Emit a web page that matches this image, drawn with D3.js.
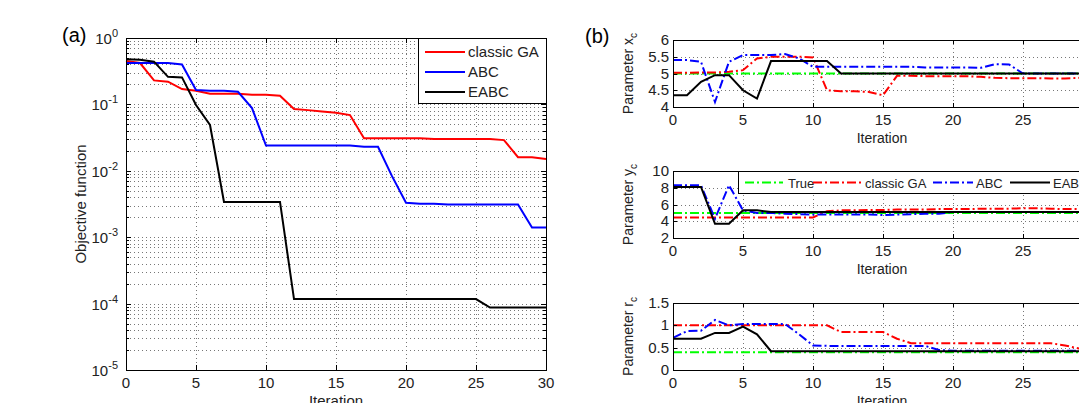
<!DOCTYPE html>
<html>
<head>
<meta charset="utf-8">
<script src="https://cdn.jsdelivr.net/npm/d3@7"></script>
<style>
body { margin: 0; background: #fff; }
text { font-family: "Liberation Sans", Arial, sans-serif; }
</style>
</head>
<body>
<script>
// iterations 0..30
var iterations = d3.range(0, 31);
var xTicks = [0, 5, 10, 15, 20, 25, 30];

// (a) objective function per iteration
var seriesNames = ['classic GA', 'ABC', 'EABC'];
var gaObj = [0.45, 0.42, 0.23, 0.22, 0.17, 0.16, 0.145, 0.145, 0.145, 0.14, 0.14, 0.135, 0.085, 0.082, 0.078, 0.075,
    0.069, 0.031, 0.031, 0.031, 0.031, 0.031, 0.03, 0.03, 0.03, 0.03, 0.03, 0.029, 0.016, 0.016, 0.015];
var abcObj = [0.42, 0.42, 0.42, 0.42, 0.4, 0.165, 0.16, 0.16, 0.155, 0.088, 0.024, 0.024, 0.024, 0.024, 0.024, 0.024,
    0.024, 0.023, 0.023, 0.0083, 0.0033, 0.0032, 0.0032, 0.0031, 0.0031, 0.0031, 0.0031, 0.0031, 0.0031, 0.0014, 0.0014];
var eabcObj = [0.48, 0.47, 0.44, 0.26, 0.255, 0.098, 0.049, 0.0034, 0.0034, 0.0034, 0.0034, 0.0034,
    0.000117, 0.000117, 0.000117, 0.000117, 0.000117, 0.000117, 0.000117, 0.000117, 0.000117, 0.000117, 0.000117,
    0.000117, 0.000117, 0.000117, 0.000087, 0.000087, 0.000087, 0.000087, 0.000087];
var yTicksA = [1e-5, 1e-4, 1e-3, 1e-2, 1e-1, 1];
var yTickExpA = ['-5', '-4', '-3', '-2', '-1', '0'];

// (b) estimated parameters per iteration
var legendB = ['True', 'classic GA', 'ABC', 'EABC'];
var trueXc = [5, 5, 5, 5, 5, 5, 5, 5, 5, 5, 5, 5, 5, 5, 5, 5, 5, 5, 5, 5, 5, 5, 5, 5, 5, 5, 5, 5, 5, 5, 5];
var gaXc = [5.02, 5.02, 5.03, 5.03, 5.05, 5.1, 5.45, 5.5, 5.5, 5.5, 5.48, 4.5, 4.47, 4.47, 4.45, 4.35,
    4.93, 4.93, 4.92, 4.92, 4.92, 4.92, 4.9, 4.87, 4.86, 4.86, 4.86, 4.85, 4.85, 4.87, 4.87];
var abcXc = [5.4, 5.4, 5.35, 4.15, 5.35, 5.55, 5.55, 5.55, 5.58, 5.45, 5.2, 5.2, 5.2, 5.2, 5.2, 5.2,
    5.2, 5.2, 5.18, 5.18, 5.18, 5.18, 5.17, 5.28, 5.27, 5.0, 5.0, 5.0, 5.0, 5.0, 5.0];
var eabcXc = [4.35, 4.35, 4.75, 4.95, 4.95, 4.5, 4.25, 5.37, 5.37, 5.37, 5.37, 5.37, 5.0, 5.0, 5.0, 5.0,
    5.0, 5.0, 5.0, 5.0, 5.0, 5.0, 5.0, 5.0, 5.0, 5.0, 5.0, 5.0, 5.0, 5.0, 5.0];

var trueYc = [5, 5, 5, 5, 5, 5, 5, 5, 5, 5, 5, 5, 5, 5, 5, 5, 5, 5, 5, 5, 5, 5, 5, 5, 5, 5, 5, 5, 5, 5, 5];
var gaYc = [4.45, 4.45, 4.45, 4.45, 4.45, 4.45, 4.45, 4.45, 4.45, 4.45, 4.45, 5.2, 5.3, 5.3, 5.35, 5.35,
    5.4, 5.4, 5.4, 5.45, 5.45, 5.45, 5.5, 5.5, 5.5, 5.55, 5.55, 5.5, 5.45, 5.45, 5.5];
var abcYc = [8.3, 8.3, 8.3, 4.3, 8.3, 5.3, 5.0, 5.0, 4.9, 4.85, 4.8, 4.8, 4.8, 4.8, 4.8, 4.75,
    4.8, 4.85, 4.9, 4.9, 5.1, 5.1, 5.1, 5.1, 5.1, 5.1, 5.1, 5.1, 5.1, 5.1, 5.1];
var eabcYc = [8.1, 8.1, 8.1, 3.7, 3.7, 5.3, 5.3, 5.1, 5.1, 5.1, 5.1, 5.1, 5.1, 5.1, 5.1, 5.1,
    5.1, 5.1, 5.1, 5.1, 5.1, 5.1, 5.1, 5.1, 5.1, 5.1, 5.1, 5.1, 5.1, 5.1, 5.1];

var trueRc = [0.4, 0.4, 0.4, 0.4, 0.4, 0.4, 0.4, 0.4, 0.4, 0.4, 0.4, 0.4, 0.4, 0.4, 0.4, 0.4,
    0.4, 0.4, 0.4, 0.4, 0.4, 0.4, 0.4, 0.4, 0.4, 0.4, 0.4, 0.4, 0.4, 0.4, 0.4];
var gaRc = [1.0, 1.0, 1.0, 1.0, 1.0, 1.0, 1.0, 1.0, 1.0, 1.0, 1.0, 1.0, 0.85, 0.85, 0.85, 0.85,
    0.7, 0.6, 0.6, 0.6, 0.6, 0.6, 0.6, 0.6, 0.6, 0.6, 0.6, 0.6, 0.55, 0.48, 0.46];
var abcRc = [0.72, 0.87, 0.88, 1.12, 1.0, 1.03, 1.03, 1.03, 1.03, 0.8, 0.55, 0.54, 0.54, 0.54, 0.54, 0.54,
    0.54, 0.54, 0.54, 0.45, 0.43, 0.43, 0.43, 0.43, 0.43, 0.43, 0.43, 0.43, 0.43, 0.43, 0.43];
var eabcRc = [0.7, 0.7, 0.7, 0.83, 0.83, 0.97, 0.8, 0.42, 0.42, 0.42, 0.42, 0.42, 0.42, 0.42, 0.42, 0.42,
    0.42, 0.42, 0.42, 0.42, 0.42, 0.42, 0.42, 0.42, 0.42, 0.42, 0.42, 0.42, 0.42, 0.42, 0.42];

var subplots = [
    {label: 'x', ticks: [4, 4.5, 5, 5.5, 6], domain: [4, 6], series: [trueXc, gaXc, abcXc, eabcXc]},
    {label: 'y', ticks: [2, 4, 6, 8, 10], domain: [2, 10], series: [trueYc, gaYc, abcYc, eabcYc]},
    {label: 'r', ticks: [0, 0.5, 1, 1.5], domain: [0, 1.5], series: [trueRc, gaRc, abcRc, eabcRc]}
];

var colorsA = ['#ff0000', '#0000ff', '#000000'];
var colorsB = ['#00ff00', '#ff0000', '#0000ff', '#000000'];
var dashB = ['9,3,2,3', '9,3,2,3', '9,3,2,3', null];

var width = 1079;
var height = 403;

var svg = d3.select('body').append('svg')
    .attr('width', width)
    .attr('height', height);

svg.append('rect').attr('width', width).attr('height', height).attr('fill', '#fff');

function gridStyle(sel) {
    sel.attr('stroke', '#777')
        .attr('stroke-width', 1)
        .attr('stroke-dasharray', '1,3')
        .attr('shape-rendering', 'crispEdges');
}

function inwardTicks(g, xScale, yScale, xVals, yVals, left, right, top, bottom, len) {
    xVals.forEach(function(v) {
        var x = Math.round(xScale(v)) + 0.5;
        g.append('line').attr('x1', x).attr('x2', x).attr('y1', bottom).attr('y2', bottom - len);
        g.append('line').attr('x1', x).attr('x2', x).attr('y1', top).attr('y2', top + len);
    });
    yVals.forEach(function(v) {
        var y = Math.round(yScale(v)) + 0.5;
        g.append('line').attr('x1', left).attr('x2', left + len).attr('y1', y).attr('y2', y);
        g.append('line').attr('x1', right).attr('x2', right - len).attr('y1', y).attr('y2', y);
    });
    g.attr('stroke', '#000').attr('stroke-width', 1);
}

// ---------------- panel (a)
var aL = 126, aR = 546, aT = 38, aB = 370;
var xA = d3.scaleLinear().domain([0, 30]).range([aL, aR]);
var yA = d3.scaleLog().domain([1e-5, 1]).range([aB, aT]);

var gridA = svg.append('g');
xTicks.slice(1, -1).forEach(function(v) {
    gridA.append('line')
        .attr('x1', Math.round(xA(v)) + 0.5).attr('x2', Math.round(xA(v)) + 0.5)
        .attr('y1', aT).attr('y2', aB)
        .call(gridStyle);
});
yA.ticks().filter(function(v) { return v > 1e-5 && v < 1; }).forEach(function(v) {
    gridA.append('line')
        .attr('x1', aL).attr('x2', aR)
        .attr('y1', Math.round(yA(v)) + 0.5).attr('y2', Math.round(yA(v)) + 0.5)
        .call(gridStyle);
});

var lineA = d3.line()
    .x(function(d, i) { return xA(iterations[i]); })
    .y(function(d) { return yA(d); });

[gaObj, abcObj, eabcObj].forEach(function(s, k) {
    svg.append('path')
        .attr('d', lineA(s))
        .attr('fill', 'none')
        .attr('stroke', colorsA[k])
        .attr('stroke-width', 2);
});

svg.append('rect')
    .attr('x', aL + 0.5).attr('y', aT + 0.5)
    .attr('width', aR - aL).attr('height', aB - aT)
    .attr('fill', 'none').attr('stroke', '#000');

var ticksA = svg.append('g');
inwardTicks(ticksA, xA, yA, xTicks, yTicksA, aL, aR, aT, aB, 5);
var minorA = svg.append('g');
inwardTicks(minorA, xA, yA, [], yA.ticks().filter(function(v) { return yTicksA.indexOf(v) < 0; }), aL, aR, aT, aB, 3);

svg.append('g').selectAll('text')
    .data(xTicks)
    .enter().append('text')
        .attr('x', function(d) { return xA(d); })
        .attr('y', aB + 18)
        .attr('text-anchor', 'middle')
        .attr('font-size', 15)
        .attr('fill', '#222')
        .text(function(d) { return d; });

var yLabA = svg.append('g').selectAll('text')
    .data(yTicksA)
    .enter().append('text')
        .attr('x', aL - 8)
        .attr('y', function(d) { return yA(d) + 6; })
        .attr('text-anchor', 'end')
        .attr('font-size', 15)
        .attr('fill', '#222');
yLabA.append('tspan').text('10');
yLabA.append('tspan')
    .attr('dy', -7)
    .attr('font-size', 11)
    .text(function(d, i) { return yTickExpA[i]; });

svg.append('text')
    .attr('transform', 'translate(86,204) rotate(-90)')
    .attr('text-anchor', 'middle')
    .attr('font-size', 15)
    .attr('fill', '#222')
    .text('Objective function');

svg.append('text')
    .attr('x', (aL + aR) / 2)
    .attr('y', 406)
    .attr('text-anchor', 'middle')
    .attr('font-size', 15)
    .attr('fill', '#222')
    .text('Iteration');

svg.append('text')
    .attr('x', 62).attr('y', 42)
    .attr('font-family', '"Liberation Serif", "Times New Roman", serif')
    .attr('font-size', 20)
    .text('(a)');

// legend (a)
var legA = svg.append('g');
legA.append('rect')
    .attr('x', 418.5).attr('y', aT + 0.5)
    .attr('width', aR - 418).attr('height', 65)
    .attr('fill', '#fff').attr('stroke', '#000');
seriesNames.forEach(function(name, k) {
    var y = 52 + k * 20;
    legA.append('line')
        .attr('x1', 425).attr('x2', 465).attr('y1', y).attr('y2', y)
        .attr('stroke', colorsA[k]).attr('stroke-width', 2);
    legA.append('text')
        .attr('x', 468).attr('y', y + 5)
        .attr('font-size', 15)
        .attr('fill', '#222')
        .text(name);
});

// ---------------- panel (b)
var bL = 673, bR = 1093;
var bTops = [40, 171, 303];
var bH = 67;
var xB = d3.scaleLinear().domain([0, 30]).range([bL, bR]);

svg.append('text')
    .attr('x', 585).attr('y', 43)
    .attr('font-family', '"Liberation Serif", "Times New Roman", serif')
    .attr('font-size', 20)
    .text('(b)');

subplots.forEach(function(sp, j) {
    var top = bTops[j];
    var bottom = top + bH;
    var y = d3.scaleLinear().domain(sp.domain).range([bottom, top]);
    var g = svg.append('g');

    g.append('clipPath').attr('id', 'clip' + j)
        .append('rect')
        .attr('x', bL).attr('y', top)
        .attr('width', bR - bL).attr('height', bH);

    xTicks.slice(1, -1).forEach(function(v) {
        g.append('line')
            .attr('x1', Math.round(xB(v)) + 0.5).attr('x2', Math.round(xB(v)) + 0.5)
            .attr('y1', top).attr('y2', bottom)
            .call(gridStyle);
    });
    sp.ticks.slice(1, -1).forEach(function(v) {
        g.append('line')
            .attr('x1', bL).attr('x2', bR)
            .attr('y1', Math.round(y(v)) + 0.5).attr('y2', Math.round(y(v)) + 0.5)
            .call(gridStyle);
    });

    var line = d3.line()
        .x(function(d, i) { return xB(iterations[i]); })
        .y(function(d) { return y(d); });

    var lines = g.append('g').attr('clip-path', 'url(#clip' + j + ')');
    sp.series.forEach(function(s, k) {
        lines.append('path')
            .attr('d', line(s))
            .attr('fill', 'none')
            .attr('stroke', colorsB[k])
            .attr('stroke-width', 2)
            .attr('stroke-dasharray', dashB[k]);
    });

    g.append('rect')
        .attr('x', bL + 0.5).attr('y', top + 0.5)
        .attr('width', bR - bL).attr('height', bH)
        .attr('fill', 'none').attr('stroke', '#000');

    inwardTicks(g.append('g'), xB, y, xTicks, sp.ticks, bL, bR, top, bottom, 4);

    g.append('g').selectAll('text')
        .data(xTicks)
        .enter().append('text')
            .attr('x', function(d) { return xB(d); })
            .attr('y', bottom + 18)
            .attr('text-anchor', 'middle')
            .attr('font-size', 15)
            .attr('fill', '#222')
            .text(function(d) { return d; });

    g.append('g').selectAll('text')
        .data(sp.ticks)
        .enter().append('text')
            .attr('x', bL - 4)
            .attr('y', function(d) { return y(d) + 5; })
            .attr('text-anchor', 'end')
            .attr('font-size', 15)
            .attr('fill', '#222')
            .text(function(d) { return d; });

    var yl = g.append('text')
        .attr('transform', 'translate(633,' + (top + bH / 2) + ') rotate(-90)')
        .attr('text-anchor', 'middle')
        .attr('font-size', 14)
        .attr('fill', '#222');
    yl.append('tspan').text('Parameter ' + sp.label);
    yl.append('tspan').attr('dy', 4).attr('font-size', 10).text('c');

    g.append('text')
        .attr('x', (bL + bR) / 2 - 1)
        .attr('y', bottom + 36)
        .attr('text-anchor', 'middle')
        .attr('font-size', 14)
        .attr('fill', '#222')
        .text('Iteration');
});

// legend (b), inside the y_c subplot
var legB = svg.append('g');
var lt = bTops[1];
legB.append('rect')
    .attr('x', 738.5).attr('y', lt + 0.5)
    .attr('width', 360).attr('height', 22)
    .attr('fill', '#fff').attr('stroke', '#000');
var legX = [[745, 783, 788], [813, 862, 865], [933, 973, 976], [1010, 1050, 1053]];
legendB.forEach(function(name, k) {
    var yy = lt + 11.5;
    legB.append('line')
        .attr('x1', legX[k][0]).attr('x2', legX[k][1]).attr('y1', yy).attr('y2', yy)
        .attr('stroke', colorsB[k]).attr('stroke-width', 2)
        .attr('stroke-dasharray', dashB[k]);
    legB.append('text')
        .attr('x', legX[k][2]).attr('y', yy + 5)
        .attr('font-size', 13)
        .attr('fill', '#222')
        .text(name);
});
</script>
</body>
</html>
